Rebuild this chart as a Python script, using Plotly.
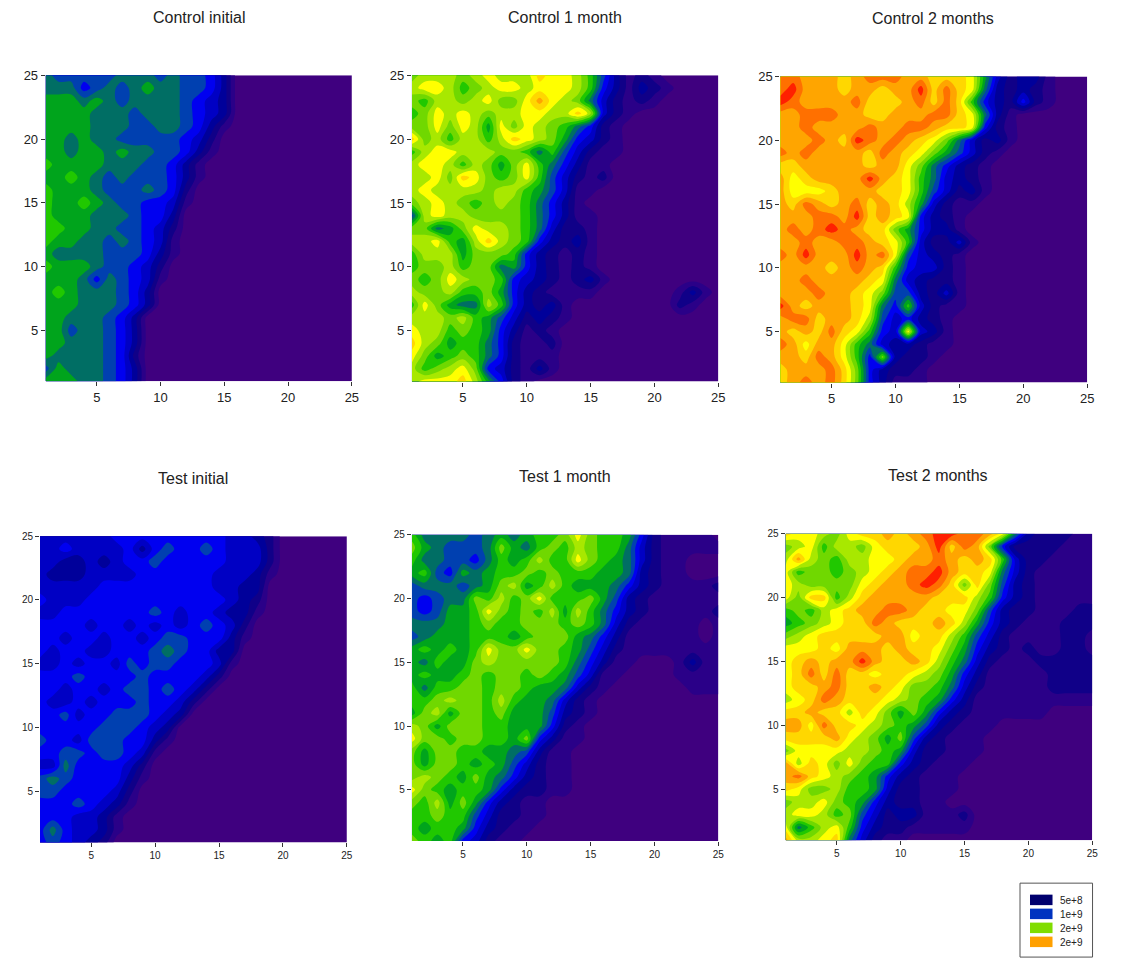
import plotly.graph_objects as go

W, H = 1127, 965
CODES = "0123456789abcdefg"
LEVEL_COLORS = ["#3f007f", "#2a0088", "#100088", "#00009a", "#0000c4", "#0000f0",
                "#0040b0", "#006e64", "#00a41c", "#20c800", "#70d800", "#a8e800",
                "#ffff00", "#ffd700", "#ffa500", "#ff7000", "#ff2000"]
AXIS_VALUES = list(range(1, 26))
TICK_VALUES = [5, 10, 15, 20, 25]
LEGEND_LABELS = ["5e+8", "1e+9", "2e+9", "2e+9"]
LEGEND_COLORS = ["#00006e", "#0033c0", "#80dd00", "#ffa000"]

# Level codes: rows run from y=25 down to y=1, columns from x=1.
# Cells not written at the right of a row are the lowest level.
control_initial = [
 "766666777676653", "777567678776653", "888787677776543", "888877767776543", "888877766776531",
 "88787766666542", "88788787766531", "9888877766531", "8898767666531", "988876667652",
 "988987665541", "98887776553", "99887766542", "98877676541", "87777666531",
 "9888766542", "8887576541", "898777653", "888777653", "88777653",
 "88677653", "88777653", "87777652", "68777653", "88877653"]
control_1_month = [
 "abbbabcbbbdccb963121", "bccb9abccbcccb9531321", "a9bbabcaacecba742121", "9acbcbabbccbbdb421", "aacacb8cacba97521",
 "dab9bb9bdcba85421", "9bccbbbaa97964211", "bccb9ba8ac975311", "bbcadca9ac964212", "bcbbbbabb986411",
 "abcba9aba97531", "6bcbbaaaa975311", "aa78acbba974221", "bbc98bdba953231", "9bbb8aaa9532121",
 "9aab9aa78532121", "a9acbaa954321231", "baab99a85321111000000131", "9ca877b9532310000000021", "bbbab98642321",
 "cbb9a9853121", "dba899752112", "ca89a9752111", "b9abca542131", "bcccdb8521"]
control_2_months = [
 "ffeeedefffeedddc842331", "fgeeedeedeegdfdc732321", "gfeeeefdddefdfd9532521", "eefffeeddeeeffdc731", "eefeeeefeeffeddc521",
 "eeefedgfefedca74231", "fefeeeedfedca86421", "ddeeeeedeeca75321", "ecdeeeegedc974321", "ecccdeeeddc964231",
 "edfedefdedb84211", "eeeffegdedc5321", "efefgfedda85331", "eefeeffedc942241", "fegeeegefc64321",
 "eeeedefed954421", "eefeeeedc743221", "eeefeedca663241", "gedeeedc7594211", "effdeedb645321",
 "ededfdc954c431", "feceec97433211", "eedfec95a3221", "deeefda53221", "defefda53111"]
test_initial = [
 "4444445555555554432", "4454444535655654442", "4433434556555554442", "4333444455555544431", "444445555555554433",
 "544455555555555432", "445555555654554331", "55554554545456542", "55455455456655531", "5455445556765533",
 "4454554656655541", "555655556555542", "55455456656542", "5445455565542", "556455666543",
 "55555666543", "65546665531", "5566566541", "447555542", "676555531",
 "66555542", "55565431", "5554431", "5754431", "565432"]
test_1_month = [
 "97777 67878 99aca 99852 1111", "a8766 67a87 9a9ba 99742 11111", "97766 57989 b99ca 98742 11", "89658 7899a 9a999 88732 11", "67776 78ab8 9b988 87532 11112",
 "65677 a9b9a c999a 86321 11111", "65688 9ca9a 9b8b9 75321 11112", "77788 9a99a aa9a9 74211 11101", "67888 99989 aaa87 53111 11101", "89898 9caac aa986 42111 11111",
 "87988 abaaa aa975 31100 01311", "89889 a9aa9 a9864 11000 01111", "9799a a9aa9 88742 10000 00111", "99aba a9b98 87421", "8ab8a a9a88 86321",
 "ba8aa a9988 8521", "caa9a a998a 5311", "a8aa9 98876 311", "a8aa9 89864 211", "aba98 a8753 211",
 "ca989 98532 211", "a9b8a 85321 1", "99a99 64221 1", "98998 53211", "a9895 4211"]
test_2_months = [
 "dccba cdded efggf fec73 22211", "abc9b bacdd degdf ea522 22111", "beba9 bbccd eefed ed942 21111", "c9aa9 abcde ffged dc742 11111", "cbaaa acdee fgfda da632 11111",
 "cadd9 bdeee eeddd b9532 11111", "9a9bc deeff eddcc a6322 11122", "89abc ddfed ddedb 85321 11222", "abcdd dddee cddb9 64211 11221", "cccdc eeede ddca8 53212 11221",
 "cdede egedd edb97 42111 22222", "cdfdf ddcdd cba85 31111 12222", "cddef ddedc aa974 21111 12222", "bcdfe dddcb a9853 11111 11111", "ddedd bdca8 a8532 11111 10000",
 "eecfd dcba9 86321 110", "dddde cba8a 63211 1", "acccc bba98 42211 1", "ebdca ca995 32111", "efdcb a9853 2111",
 "dcaab 99842 2111", "abbca 98532 211", "bccb9 a6423 31112", "c79bc 95322 11111", "ebbcd 74211"]

PANELS = [
    ("Control initial", control_initial, (45.7, 351.7, 74.5, 380.7), 199, 17, 13),
    ("Control 1 month", control_1_month, (411.7, 718, 74.5, 381), 565, 17, 13),
    ("Control 2 months", control_2_months, (780, 1086.7, 75.7, 382), 933, 18, 13),
    ("Test initial", test_initial, (40, 346.7, 535.7, 842.3), 193, 478, 10),
    ("Test 1 month", test_1_month, (411.7, 718, 534.3, 840.7), 565, 476, 10),
    ("Test 2 months", test_2_months, (785.3, 1091.7, 533.3, 840), 938, 475, 10),
]


def fx(x):
    return x / 0.9933 / W


def fy(y):
    return 1 - (y - 6.1) / 0.9936 / H


def parse(rows):
    grid = []
    for row in reversed(rows):
        cells = row.replace(" ", "").ljust(25, "0")[:25]
        grid.append([CODES.index(c) for c in cells])
    return grid


n = len(LEVEL_COLORS)
colorscale = []
for i, c in enumerate(LEVEL_COLORS):
    colorscale += [[i / n, c], [(i + 1) / n, c]]

fig = go.Figure()
layout = dict(width=W, height=H, margin=dict(l=0, r=0, t=0, b=0), paper_bgcolor="white",
              plot_bgcolor="white", showlegend=False, font=dict(family="Liberation Sans", color="#222"))
annotations, shapes = [], []
for i, (title, rows, (l, r, t, b), tx, ty, fs) in enumerate(PANELS, start=1):
    sfx = "" if i == 1 else str(i)
    fig.add_trace(go.Contour(
        x=AXIS_VALUES, y=AXIS_VALUES, z=parse(rows), xaxis=f"x{sfx}", yaxis=f"y{sfx}",
        zmin=-0.5, zmax=n - 0.5, autocontour=False,
        contours=dict(start=0.5, end=n - 1.5, size=1, coloring="fill", showlines=False),
        line=dict(width=0, smoothing=1.0), colorscale=colorscale, showscale=False, hoverinfo="skip"))
    common = dict(range=[1, 25], tickvals=TICK_VALUES, ticks="outside", ticklen=4, tickwidth=1,
                  tickcolor="#333", showgrid=False, zeroline=False, showline=False,
                  tickfont=dict(size=fs, color="#222"))
    layout[f"xaxis{sfx}"] = dict(domain=[fx(l), fx(r)], anchor=f"y{sfx}", **common)
    layout[f"yaxis{sfx}"] = dict(domain=[fy(b), fy(t)], anchor=f"x{sfx}", **common)
    annotations.append(dict(text=title, x=fx(tx), y=fy(ty), xref="paper", yref="paper",
                            showarrow=False, xanchor="center", yanchor="middle",
                            font=dict(size=16, color="#222")))


def px(x0, y0, x1, y1, **kw):
    return dict(type="rect", xref="paper", yref="paper", x0=fx(x0), x1=fx(x1),
                y0=fy(y0), y1=fy(y1), **kw)


shapes.append(px(1019.5, 883, 1092, 957, line=dict(color="#555", width=1), fillcolor="white"))
for k, (lab, col) in enumerate(zip(LEGEND_LABELS, LEGEND_COLORS)):
    y0 = 894.5 + k * 14
    shapes.append(px(1029.5, y0, 1052, y0 + 10.5, line=dict(width=0), fillcolor=col))
    annotations.append(dict(text=lab, x=fx(1057), y=fy(y0 + 5.5), xref="paper", yref="paper",
                            showarrow=False, xanchor="left", yanchor="middle",
                            font=dict(size=10, color="#222")))

fig.update_layout(annotations=annotations, shapes=shapes, **layout)
fig.write_html("out.html", config={"displayModeBar": False},
               post_script="document.body.style.margin='0';document.documentElement.style.overflow='hidden';")
